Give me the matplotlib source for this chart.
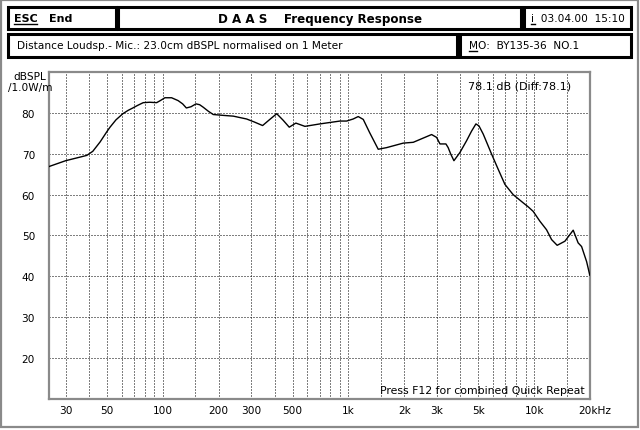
import matplotlib
matplotlib.use("Agg")
import matplotlib.pyplot as plt
from matplotlib.patches import Rectangle
from matplotlib.transforms import ScaledTranslation

# --- measured response (Hz, dBSPL) ---
freq = [24.5, 30, 36, 39, 42, 46, 50, 52, 56, 61, 65, 69, 73, 78.5, 85, 92.7,
        97, 102.7, 111.6, 121, 128, 134, 142, 151, 158, 165, 176, 187, 210,
        240, 283, 310, 345, 375, 411, 445, 480, 500, 521, 583, 702, 900, 978,
        1060, 1129, 1202, 1300, 1447, 1606, 1973, 2234, 2805, 2985, 3111, 3350,
        3445, 3550, 3700, 3985, 4330, 4600, 4860, 5050, 5322, 5600, 5904, 6406,
        6963, 7711, 8730, 9300, 9888, 10740, 11670, 12420, 13310, 14650, 16240,
        17260, 18020, 19180, 19950]
spl = [66.9, 68.3, 69.2, 69.6, 70.6, 72.9, 75.4, 76.5, 78.3, 79.8, 80.6, 81.2,
       81.8, 82.5, 82.6, 82.5, 83.0, 83.7, 83.7, 83.0, 82.2, 81.2, 81.5, 82.2,
       82.0, 81.4, 80.4, 79.6, 79.4, 79.2, 78.5, 77.8, 76.9, 78.3, 79.8, 78.2,
       76.5, 77.0, 77.5, 76.7, 77.3, 78.0, 78.0, 78.5, 79.1, 78.4, 75.2, 71.1,
       71.5, 72.6, 72.8, 74.7, 74.0, 72.4, 72.4, 71.5, 70.0, 68.3, 70.3, 73.2,
       75.5, 77.3, 76.8, 74.8, 72.4, 69.9, 66.2, 62.5, 60.0, 58.0, 57.0, 55.9,
       53.5, 51.4, 49.0, 47.6, 48.6, 51.3, 48.2, 47.3, 43.6, 40.3]

grid_x = [30, 40, 50, 60, 70, 80, 90, 100, 150, 200, 300, 400, 500, 600, 700,
          800, 900, 1000, 1500, 2000, 3000, 4000, 5000, 6000, 7000, 8000, 9000,
          10000, 15000]
tick_x = [30, 50, 100, 200, 300, 500, 1000, 2000, 3000, 5000, 10000, 20000]
tick_x_labels = ['30', '50', '100', '200', '300', '500', '1k', '2k', '3k', '5k',
                 '10k', '20kHz']
tick_y = [20, 30, 40, 50, 60, 70, 80]

W, H = 640, 431
plt.rcParams['font.family'] = ['DejaVu Sans']
fig = plt.figure(figsize=(W / 100, H / 100), dpi=100)
fig.patch.set_facecolor('white')


def px(x, y):
    return x / W, 1 - y / H


def box(x0, y0, x1, y1, lw=2.2, color='black'):
    fx0, fy1 = px(x0, y1)
    fig.add_artist(Rectangle((fx0, fy1), (x1 - x0) / W, (y1 - y0) / H,
                             transform=fig.transFigure, fill=False,
                             edgecolor=color, linewidth=lw))


def text(x, y, s, **kw):
    kw.setdefault('fontsize', 7.6)
    kw.setdefault('va', 'center')
    fig.text(*px(x, y), s, **kw)


def underline(x0, x1, y):
    fig.add_artist(plt.Line2D([x0 / W, x1 / W], [1 - y / H] * 2, color='black', lw=1))


# outer dithered frame
box(1, 1, 638, 428, lw=1.6, color='#8a8a8a')

# header boxes
box(8, 8, 116, 30)
box(118, 8, 521, 30)
box(524, 8, 631, 30)
box(8, 35, 457, 58)
box(460, 35, 631, 58)

text(14, 19, 'ESC', fontweight='bold', fontsize=8)
underline(14, 37, 24.5)
text(49, 19, 'End', fontweight='bold', fontsize=8)
text(320, 19, 'D A A S    Frequency Response', fontweight='bold', fontsize=8.6,
     ha='center')
text(531, 19, 'i  03.04.00  15:10')
underline(531, 535, 24.5)
text(17, 46, 'Distance Loudsp.- Mic.: 23.0cm dBSPL normalised on 1 Meter')
text(469, 46, 'MO:  BY135-36  NO.1')
underline(469, 477, 51.5)

# plot area
ax = fig.add_axes([49 / W, 1 - 400 / H, 541 / W, 327 / H])
ax.set_xscale('log')
ax.set_xlim(24.4, 20000)
ax.set_ylim(10, 90)

for gx in grid_x:
    ax.axvline(gx, color='black', lw=0.72, ls=(0, (1, 2)), zorder=1)
for gy in tick_y:
    ax.axhline(gy, color='black', lw=0.72, ls=(0, (1, 2)), zorder=1)

ax.plot(freq, spl, color='black', lw=1.0, zorder=3)

ax.set_xticks(tick_x)
ax.set_xticklabels(tick_x_labels)
ax.xaxis.set_minor_locator(matplotlib.ticker.NullLocator())
ax.set_yticks(tick_y)
ax.tick_params(axis='both', length=0, labelsize=7.6)
ax.tick_params(axis='x', pad=4)
ax.tick_params(axis='y', pad=10)
last = ax.get_xticklabels()[-1]
last.set_transform(last.get_transform() + ScaledTranslation(0.05, 0, fig.dpi_scale_trans))

for sp in ax.spines.values():
    sp.set_color('#8a8a8a')
    sp.set_linewidth(1.6)

ax.text(0.965, 0.975, '78.1 dB (Diff:78.1)', transform=ax.transAxes,
        ha='right', va='top', fontsize=8)
ax.text(0.612, 0.012, 'Press F12 for combined Quick Repeat', transform=ax.transAxes,
        ha='left', va='bottom', fontsize=7.8, zorder=4)

text(13, 77, 'dBSPL')
text(8, 88, '/1.0W/m')

fig.savefig('out.png', dpi=100, facecolor='white')
